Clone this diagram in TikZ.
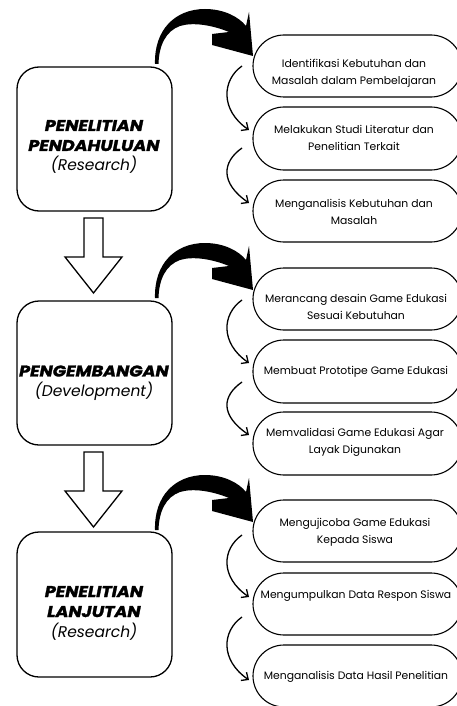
\documentclass[tikz,border=0pt]{standalone}
\usepackage{fontspec}
\setmainfont{Poppins}
\newfontfamily\headfont{Poppins}[BoldItalicFeatures={FakeBold=1.8,FakeStretch=1.13}]
\usetikzlibrary{arrows.meta}
\tikzset{
  stagebox/.style={draw, line width=1.3pt, rounded corners=22pt},
  pill/.style={draw, line width=1.1pt, rounded corners=31pt},
  pilltext/.style={font=\fontsize{10.8}{17}\selectfont, align=center, inner sep=0pt},
  headtext/.style={font=\headfont\fontsize{15.5}{20}\selectfont, align=center, inner sep=0pt},
  bigarrow/.style={fill=black},
  hollow/.style={draw, line width=1.3pt, fill=white, line join=miter},
  thin/.style={line width=1.3pt, -{Straight Barb[length=5.5pt,width=10pt,line width=1.3pt]}}
}
\begin{document}
\begin{tikzpicture}[x=1pt,y=-1pt]
\useasboundingbox (0,0) rectangle (457,706);
\begin{scope}
\clip (0,0) rectangle (457,706);
% ---------- stage boxes ----------
\draw[stagebox] (17,67) rectangle (172,211);
\draw[stagebox] (17,301) rectangle (172,445);
\draw[stagebox] (17,532) rectangle (172,677);
\node[headtext] (h1) at (94,147) {\textbf{\textit{PENELITIAN}}\\\textbf{\textit{PENDAHULUAN}}\\\textit{(Research)}};
\node[headtext] (h2) at (94,383) {\textbf{\textit{PENGEMBANGAN}}\\\textit{(Development)}};
\node[headtext] (h3) at (94,613) {\textbf{\textit{PENELITIAN}}\\\textbf{\textit{LANJUTAN}}\\\textit{(Research)}};
% ---------- hollow block arrows ----------
\foreach \o in {0,234}{
  \draw[hollow] (84,218+\o) -- (103,218+\o) -- (103,257+\o) -- (122,257+\o) -- (93.5,293+\o) -- (65,257+\o) -- (84,257+\o) -- cycle;
}
% ---------- pills ----------
\foreach \t/\b in {35/97,107/170,180/242,268/330,340/403,412/475,500/562,573/635,645/707}{
  \draw[pill] (253,\t) rectangle (462,\b);
}
\node[pilltext] (p11) at (354,73) {Identifikasi Kebutuhan dan\\Masalah dalam Pembelajaran};
\node[pilltext] (p12) at (354,138) {Melakukan Studi Literatur dan\\Penelitian Terkait};
\node[pilltext] (p13) at (354,212) {Menganalisis Kebutuhan dan\\Masalah};
\node[pilltext] (p21) at (356,307) {Merancang desain Game Edukasi\\Sesuai Kebutuhan};
\node[pilltext] (p22) at (356,372) {Membuat Prototipe Game Edukasi};
\node[pilltext] (p23) at (355,442) {Memvalidasi Game Edukasi Agar\\Layak Digunakan};
\node[pilltext] (p31) at (355,532) {Mengujicoba Game Edukasi\\Kepada Siswa};
\node[pilltext] (p32) at (356,596) {Mengumpulkan Data Respon Siswa};
\node[pilltext] (p33) at (356,677) {Menganalisis Data Hasil Penelitian};
% ---------- thick curved arrows ----------
\foreach \o in {0,234,466}{
  \fill[bigarrow] (155,64+\o) .. controls (154,30+\o) and (175,9+\o) .. (205,9+\o)
     .. controls (224,9+\o) and (239,17+\o) .. (246,26+\o)
     -- (249,12+\o) -- (253,56+\o) -- (212,45+\o) -- (212,34+\o) -- (229,32+\o)
     .. controls (212,25+\o) and (193,22+\o) .. (180,26+\o)
     .. controls (166,31+\o) and (159,45+\o) .. (158.5,64+\o) -- cycle;
}
% ---------- thin curved arrows ----------
\foreach \s/\e in {66/130,148/203,300/363,382/435,535/597,617/680}{
  \draw[thin] (242,\s) .. controls (222,\s+14) and (220,\e-20) .. (249,\e);
}
\end{scope}
\end{tikzpicture}
\end{document}
